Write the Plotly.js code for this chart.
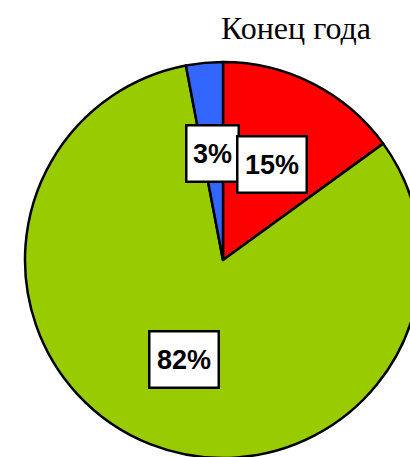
<!DOCTYPE html>
<html>
<head>
<meta charset="utf-8">
<script src="https://cdn.plot.ly/plotly-3.0.1.min.js"></script>
<style>html,body{margin:0;padding:0;overflow:hidden;background:#fff}</style>
</head>
<body>
<div id="chart"></div>
<script>
var categories = ["A", "B", "C"];
var values = [15, 82, 3];
var labelsText = ["15%", "82%", "3%"];
var colors = ["#FF0000", "#99CC00", "#3366FF"];
var titleText = "Конец года";

var W = 430, H = 460;
var M = {l: 25, r: 9, t: 62, b: 2};
var labelRadius = 0.54;

var total = values.reduce(function(a, b){return a + b;}, 0);
var annotations = [];
var cum = 0;
for (var i = 0; i < values.length; i++) {
  var mid = (cum + values[i] / 2) / total * 2 * Math.PI; // clockwise from 12 o'clock
  cum += values[i];
  var px = 0.5 + labelRadius * 0.5 * Math.sin(mid);
  var py = 0.5 + labelRadius * 0.5 * Math.cos(mid);
  var txt = labelsText[i];
  annotations.push({
    xref: "paper", yref: "paper", x: px, y: py,
    text: "<b>" + txt + "</b>", showarrow: false,
    font: {family: "Liberation Sans, Arial", size: 27, color: "#000"},
    bgcolor: "#FFFFFF", bordercolor: "#000000", borderwidth: 2.5, borderpad: 2,
    width: txt.length > 2 ? 63 : 46, height: 50,
    xanchor: "center", yanchor: "middle"
  });
}
// draw the small slice label first so the 15% box sits on top like the reference
annotations = [annotations[2], annotations[0], annotations[1]];

var data = [{
  type: "pie",
  labels: categories,
  values: values,
  sort: false,
  direction: "clockwise",
  rotation: 0,
  textinfo: "none",
  hoverinfo: "none",
  marker: {colors: colors, line: {color: "#000000", width: 2.5}},
  domain: {x: [0, 1], y: [0, 1]}
}];

var layout = {
  width: W, height: H,
  margin: M,
  showlegend: false,
  paper_bgcolor: "#FFFFFF",
  title: {
    text: titleText,
    font: {family: "Liberation Serif, Times New Roman", size: 32, color: "#000"},
    xref: "container", yref: "container",
    x: 296 / W, xanchor: "center",
    y: 1 - 28 / H, yanchor: "middle"
  },
  annotations: annotations
};

Plotly.newPlot("chart", data, layout, {staticPlot: true, displayModeBar: false});
</script>
</body>
</html>
